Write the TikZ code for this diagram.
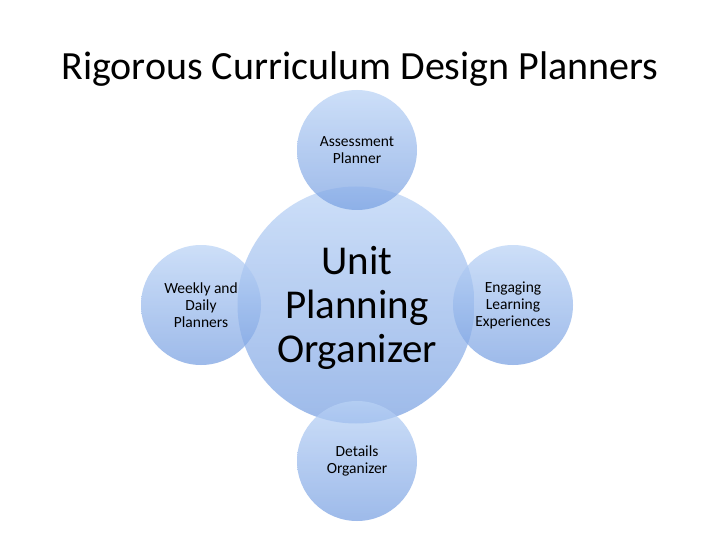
\documentclass[tikz,border=0pt]{standalone}
\usepackage{fontspec}
\setmainfont{Carlito}
\begin{document}
\begin{tikzpicture}[x=1pt,y=-1pt,
  bub/.style={circle, inner sep=0pt, align=center, fill opacity=0.72, text opacity=1,
    top color=bubtop, bottom color=bubbot, draw=none},
  small/.style={bub, minimum size=120pt, font=\fontsize{15.5}{17}\selectfont},
  big/.style={bub, minimum size=237pt, font=\fontsize{41}{44}\selectfont}]
\definecolor{bubtop}{RGB}{186,211,246}
\definecolor{bubbot}{RGB}{120,160,226}
\useasboundingbox (0,0) rectangle (720,540);
\fill[white] (0,0) rectangle (720,540);
\node[font=\fontsize{40}{46}\selectfont] (title) at (360,69) {Rigorous Curriculum Design Planners};
\node[big] (center) at (356,305) {};
\node[font=\fontsize{41}{44}\selectfont, align=center] (centertext) at (357,308) {Unit\\Planning\\Organizer};
\node[small] (top) at (357,150) {Assessment\\Planner};
\node[small] (left) at (201,305) {Weekly and\\Daily\\Planners};
\node[small] (right) at (513,305) {Engaging\\Learning\\Experiences};
\node[small] (bottom) at (357,461) {Details\\Organizer};
\end{tikzpicture}
\end{document}
